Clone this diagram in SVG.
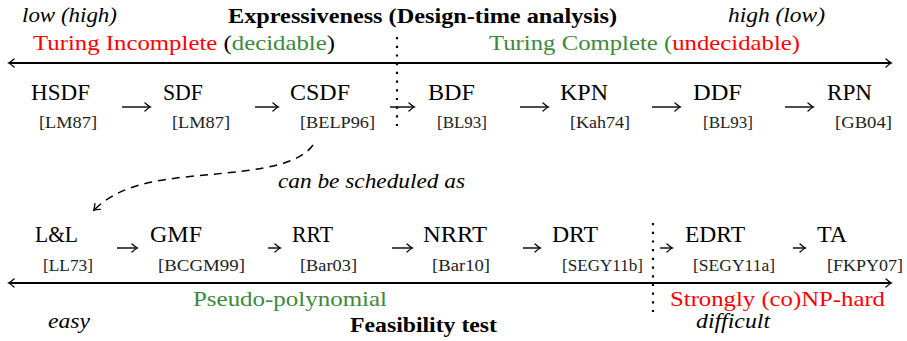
<svg xmlns="http://www.w3.org/2000/svg" width="907" height="341" viewBox="0 0 907 341">
<defs>
<marker id="ah" viewBox="-6 -5 8 10" markerWidth="8" markerHeight="10" refX="0" refY="0" orient="auto" markerUnits="userSpaceOnUse">
<path d="M-5,-4 Q-1.5,-0.8 0.5,0 Q-1.5,0.8 -5,4" fill="none" stroke="#000" stroke-width="1.3" stroke-linecap="round"/>
</marker>
<marker id="ahs" viewBox="-6 -5 8 10" markerWidth="8" markerHeight="10" refX="0" refY="0" orient="auto-start-reverse" markerUnits="userSpaceOnUse">
<path d="M-5,-4 Q-1.5,-0.8 0.5,0 Q-1.5,0.8 -5,4" fill="none" stroke="#000" stroke-width="1.3" stroke-linecap="round"/>
</marker>
</defs>
<style>
text{font-family:'Liberation Serif','DejaVu Serif',serif}
.nm{font-size:23px}
.ct{font-size:16.5px;fill:#222}
.it{font-style:italic;font-size:20px}
.bd{font-weight:bold;font-size:20px}
.lg{font-size:21px}
.red{fill:#ff0000}
.grn{fill:#3b8a3b}
.ax{stroke:#000;stroke-width:2;fill:none}
.ar{stroke:#000;stroke-width:1.4;fill:none}
.dot{stroke:#000;stroke-width:2.2;fill:none;stroke-dasharray:2.2 6.5}
.dash{stroke:#000;stroke-width:1.5;fill:none;stroke-dasharray:8 6}
</style>
<rect width="907" height="341" fill="#fff"/>
<g id="labels">
<text class="it" x="22" y="22" textLength="95" lengthAdjust="spacingAndGlyphs">low (high)</text>
<text class="bd" x="228" y="23" textLength="389" lengthAdjust="spacingAndGlyphs">Expressiveness (Design-time analysis)</text>
<text class="it" x="728" y="22" textLength="97" lengthAdjust="spacingAndGlyphs">high (low)</text>
<text class="lg" x="33" y="50" textLength="302" lengthAdjust="spacingAndGlyphs"><tspan class="red">Turing Incomplete</tspan> (<tspan class="grn">decidable</tspan>)</text>
<text class="lg" x="489" y="50" textLength="311" lengthAdjust="spacingAndGlyphs"><tspan class="grn">Turing Complete (</tspan><tspan class="red">undecidable)</tspan></text>
<text class="it" x="278" y="188" textLength="187" lengthAdjust="spacingAndGlyphs">can be scheduled as</text>
<text class="lg grn" x="193" y="306" textLength="194" lengthAdjust="spacingAndGlyphs">Pseudo-polynomial</text>
<text class="lg red" x="670" y="306" textLength="215" lengthAdjust="spacingAndGlyphs">Strongly (co)NP-hard</text>
<text class="it" x="48" y="328" textLength="42" lengthAdjust="spacingAndGlyphs">easy</text>
<text class="bd" x="350" y="332" textLength="147" lengthAdjust="spacingAndGlyphs">Feasibility test</text>
<text class="it" x="696" y="328" textLength="74" lengthAdjust="spacingAndGlyphs">difficult</text>
</g>

<g id="n-hsdf"><text class="nm" x="31" y="100" textLength="59" lengthAdjust="spacingAndGlyphs">HSDF</text><text class="ct" x="39" y="128" textLength="58" lengthAdjust="spacingAndGlyphs">[LM87]</text></g>
<g id="n-sdf"><text class="nm" x="163" y="100" textLength="40" lengthAdjust="spacingAndGlyphs">SDF</text><text class="ct" x="172" y="128" textLength="58" lengthAdjust="spacingAndGlyphs">[LM87]</text></g>
<g id="n-csdf"><text class="nm" x="290" y="100" textLength="60" lengthAdjust="spacingAndGlyphs">CSDF</text><text class="ct" x="300" y="128" textLength="75" lengthAdjust="spacingAndGlyphs">[BELP96]</text></g>
<g id="n-bdf"><text class="nm" x="428" y="100" textLength="47" lengthAdjust="spacingAndGlyphs">BDF</text><text class="ct" x="437" y="128" textLength="50" lengthAdjust="spacingAndGlyphs">[BL93]</text></g>
<g id="n-kpn"><text class="nm" x="560" y="100" textLength="48" lengthAdjust="spacingAndGlyphs">KPN</text><text class="ct" x="570" y="128" textLength="60" lengthAdjust="spacingAndGlyphs">[Kah74]</text></g>
<g id="n-ddf"><text class="nm" x="693" y="100" textLength="49" lengthAdjust="spacingAndGlyphs">DDF</text><text class="ct" x="703" y="128" textLength="50" lengthAdjust="spacingAndGlyphs">[BL93]</text></g>
<g id="n-rpn"><text class="nm" x="827" y="100" textLength="45" lengthAdjust="spacingAndGlyphs">RPN</text><text class="ct" x="835" y="128" textLength="57" lengthAdjust="spacingAndGlyphs">[GB04]</text></g>

<g id="n-ll"><text class="nm" x="35" y="242" textLength="43" lengthAdjust="spacingAndGlyphs">L&amp;L</text><text class="ct" x="43" y="271" textLength="50" lengthAdjust="spacingAndGlyphs">[LL73]</text></g>
<g id="n-gmf"><text class="nm" x="150" y="242" textLength="52" lengthAdjust="spacingAndGlyphs">GMF</text><text class="ct" x="158" y="271" textLength="87" lengthAdjust="spacingAndGlyphs">[BCGM99]</text></g>
<g id="n-rrt"><text class="nm" x="292" y="242" textLength="41" lengthAdjust="spacingAndGlyphs">RRT</text><text class="ct" x="300" y="271" textLength="57" lengthAdjust="spacingAndGlyphs">[Bar03]</text></g>
<g id="n-nrrt"><text class="nm" x="423" y="242" textLength="64" lengthAdjust="spacingAndGlyphs">NRRT</text><text class="ct" x="432" y="271" textLength="58" lengthAdjust="spacingAndGlyphs">[Bar10]</text></g>
<g id="n-drt"><text class="nm" x="552" y="242" textLength="46" lengthAdjust="spacingAndGlyphs">DRT</text><text class="ct" x="562" y="271" textLength="81" lengthAdjust="spacingAndGlyphs">[SEGY11b]</text></g>
<g id="n-edrt"><text class="nm" x="685" y="242" textLength="60" lengthAdjust="spacingAndGlyphs">EDRT</text><text class="ct" x="693" y="271" textLength="82" lengthAdjust="spacingAndGlyphs">[SEGY11a]</text></g>
<g id="n-ta"><text class="nm" x="817" y="242" textLength="30" lengthAdjust="spacingAndGlyphs">TA</text><text class="ct" x="827" y="271" textLength="76" lengthAdjust="spacingAndGlyphs">[FKPY07]</text></g>

<g id="connectors">
<path class="ax" d="M9,63 H891" marker-start="url(#ahs)" marker-end="url(#ahs)"/>
<path class="ax" d="M9,283 H891" marker-start="url(#ahs)" marker-end="url(#ahs)"/>
<path class="dot" d="M397,37 V126"/>
<path class="dot" d="M653,223 V312"/>
<path class="ar" d="M122,107 H150" marker-end="url(#ah)"/>
<path class="ar" d="M255,107 H278" marker-end="url(#ah)"/>
<path class="ar" d="M390,107 H414" marker-end="url(#ah)"/>
<path class="ar" d="M520,107 H548" marker-end="url(#ah)"/>
<path class="ar" d="M652,107 H680" marker-end="url(#ah)"/>
<path class="ar" d="M785,107 H813" marker-end="url(#ah)"/>
<path class="ar" d="M117,248 H137" marker-end="url(#ah)"/>
<path class="ar" d="M268,248 H280" marker-end="url(#ah)"/>
<path class="ar" d="M392,248 H412" marker-end="url(#ah)"/>
<path class="ar" d="M523,248 H540" marker-end="url(#ah)"/>
<path class="ar" d="M660,248 H672" marker-end="url(#ah)"/>
<path class="ar" d="M793,248 H805" marker-end="url(#ah)"/>
<path class="dash" d="M313,145 C295,170 240,171 185,177 C140,182 115,190 94,210" marker-end="url(#ah)"/>
</g>
</svg>
